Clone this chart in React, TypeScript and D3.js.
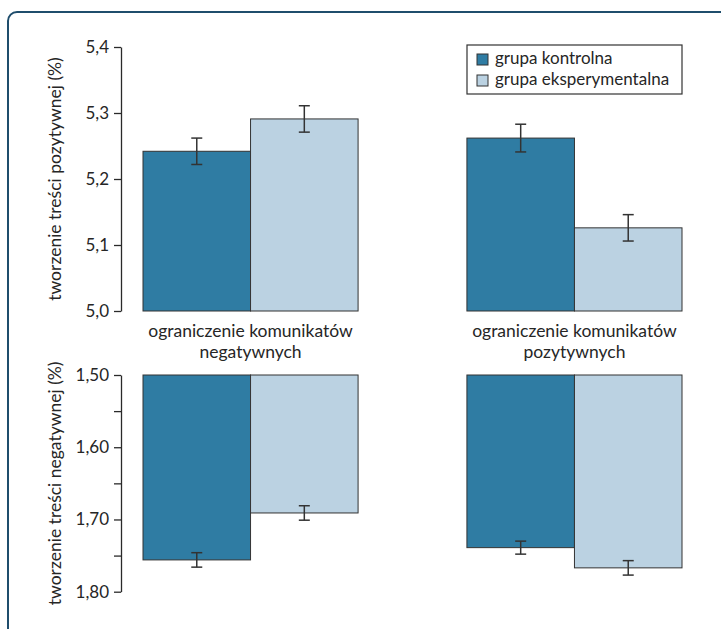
import React, { useEffect, useRef } from "react";
import * as d3 from "d3";

const categories = ["ograniczenie komunikatów negatywnych", "ograniczenie komunikatów pozytywnych"];
const categoryLines = [
  ["ograniczenie komunikatów", "negatywnych"],
  ["ograniczenie komunikatów", "pozytywnych"],
];
const groups = ["grupa kontrolna", "grupa eksperymentalna"];
const groupColors = ["#2f7ca3", "#bbd2e2"];

// tworzenie treści pozytywnej
const posControl = [5.242, 5.262];
const posControlErr = [0.02, 0.021];
const posExperimental = [5.291, 5.126];
const posExperimentalErr = [0.02, 0.02];

// tworzenie treści negatywnej
const negControl = [1.756, 1.739];
const negControlErr = [0.01, 0.009];
const negExperimental = [1.691, 1.767];
const negExperimentalErr = [0.01, 0.01];

const posTicks = [5.0, 5.1, 5.2, 5.3, 5.4];
const negTicks = [1.5, 1.55, 1.6, 1.65, 1.7, 1.75, 1.8];
const negLabeled = [1.5, 1.6, 1.7, 1.8];

const FONT = "Lato, 'Open Sans', sans-serif";
const TEXT = "#262626";

export default function App() {
  const posAxisRef = useRef(null);
  const negAxisRef = useRef(null);

  const x0 = d3.scaleBand().domain(categories).range([143, 682]).paddingInner(0.336);
  const x1 = d3.scaleBand().domain(groups).range([0, x0.bandwidth()]).padding(0);

  const yPos = d3.scaleLinear().domain([5.0, 5.4]).range([311, 47]);
  const yNeg = d3.scaleLinear().domain([1.5, 1.8]).range([375, 591.7]);

  const posRows = categories.flatMap((c, i) => [
    { cat: c, g: groups[0], v: posControl[i], e: posControlErr[i], color: groupColors[0] },
    { cat: c, g: groups[1], v: posExperimental[i], e: posExperimentalErr[i], color: groupColors[1] },
  ]);
  const negRows = categories.flatMap((c, i) => [
    { cat: c, g: groups[0], v: negControl[i], e: negControlErr[i], color: groupColors[0] },
    { cat: c, g: groups[1], v: negExperimental[i], e: negExperimentalErr[i], color: groupColors[1] },
  ]);

  useEffect(() => {
    const comma = (f) => (d) => f(d).replace(".", ",");
    const pa = d3.select(posAxisRef.current);
    pa.selectAll("*").remove();
    pa.call(
      d3.axisLeft(yPos).tickValues(posTicks).tickSize(7).tickPadding(5).tickSizeOuter(0)
        .tickFormat(comma(d3.format(".1f")))
    );
    const na = d3.select(negAxisRef.current);
    na.selectAll("*").remove();
    na.call(
      d3.axisLeft(yNeg).tickValues(negTicks).tickSize(7).tickPadding(5).tickSizeOuter(0)
        .tickFormat((d) => (negLabeled.some((t) => Math.abs(t - d) < 1e-9) ? comma(d3.format(".2f"))(d) : ""))
    );
    [pa, na].forEach((a) => {
      a.selectAll("path, line").attr("stroke", "#2a2a2a").attr("stroke-width", 1.3);
      a.selectAll("text").attr("font-family", FONT).attr("font-size", 17).attr("fill", TEXT);
    });
  }, []);

  const cap = 5.5;

  return (
    <div style={{ position: "absolute", left: 0, top: 0 }}>
      <svg width={721} height={629} style={{ display: "block", background: "#fff" }}>
        <rect x={8} y={12} width={760} height={700} rx={9} fill="none" stroke="#1f4d6c" strokeWidth={2} />

        {/* top panel bars */}
        {posRows.map((d, i) => (
          <rect
            key={"p" + i}
            x={x0(d.cat) + x1(d.g)}
            y={yPos(d.v)}
            width={x1.bandwidth()}
            height={yPos(5.0) - yPos(d.v)}
            fill={d.color}
            stroke="#333"
            strokeWidth={1}
          />
        ))}
        {posRows.map((d, i) => {
          const cx = x0(d.cat) + x1(d.g) + x1.bandwidth() / 2;
          return (
            <g key={"pe" + i} stroke="#333" strokeWidth={1.5}>
              <line x1={cx} x2={cx} y1={yPos(d.v + d.e)} y2={yPos(d.v - d.e)} />
              <line x1={cx - cap} x2={cx + cap} y1={yPos(d.v + d.e)} y2={yPos(d.v + d.e)} />
              <line x1={cx - cap} x2={cx + cap} y1={yPos(d.v - d.e)} y2={yPos(d.v - d.e)} />
            </g>
          );
        })}

        {/* bottom panel bars (reversed axis) */}
        {negRows.map((d, i) => (
          <rect
            key={"n" + i}
            x={x0(d.cat) + x1(d.g)}
            y={yNeg(1.5)}
            width={x1.bandwidth()}
            height={yNeg(d.v) - yNeg(1.5)}
            fill={d.color}
            stroke="#333"
            strokeWidth={1}
          />
        ))}
        {negRows.map((d, i) => {
          const cx = x0(d.cat) + x1(d.g) + x1.bandwidth() / 2;
          return (
            <g key={"ne" + i} stroke="#333" strokeWidth={1.5}>
              <line x1={cx} x2={cx} y1={yNeg(d.v - d.e)} y2={yNeg(d.v + d.e)} />
              <line x1={cx - cap} x2={cx + cap} y1={yNeg(d.v - d.e)} y2={yNeg(d.v - d.e)} />
              <line x1={cx - cap} x2={cx + cap} y1={yNeg(d.v + d.e)} y2={yNeg(d.v + d.e)} />
            </g>
          );
        })}

        <g ref={posAxisRef} transform="translate(121,0)" />
        <g ref={negAxisRef} transform="translate(121,0)" />

        {/* category labels */}
        {categories.map((c, i) =>
          categoryLines[i].map((l, j) => (
            <text
              key={"c" + i + "-" + j}
              x={x0(c) + x0.bandwidth() / 2}
              y={337 + j * 21}
              textAnchor="middle"
              fontFamily={FONT}
              fontSize={17.5}
              fill={TEXT}
            >
              {l}
            </text>
          ))
        )}

        {/* y axis titles */}
        <text
          transform={`translate(61,${(yPos(5.0) + yPos(5.4)) / 2}) rotate(-90)`}
          textAnchor="middle"
          fontFamily={FONT}
          fontSize={17.5}
          fill={TEXT}
        >
          tworzenie treści pozytywnej (%)
        </text>
        <text
          transform={`translate(61,${(yNeg(1.5) + yNeg(1.8)) / 2}) rotate(-90)`}
          textAnchor="middle"
          fontFamily={FONT}
          fontSize={17.5}
          fill={TEXT}
        >
          tworzenie treści negatywnej (%)
        </text>

        {/* legend */}
        <g transform="translate(467,45)">
          <rect x={0} y={0} width={215} height={49} fill="#fff" stroke="#333" strokeWidth={1.2} />
          {groups.map((g, i) => (
            <g key={g} transform={`translate(10,${9 + i * 21})`}>
              <rect x={0} y={0} width={11} height={11} fill={groupColors[i]} stroke="#333" strokeWidth={1} />
              <text x={18} y={10} fontFamily={FONT} fontSize={17} fill={TEXT}>
                {g}
              </text>
            </g>
          ))}
        </g>
      </svg>
    </div>
  );
}
